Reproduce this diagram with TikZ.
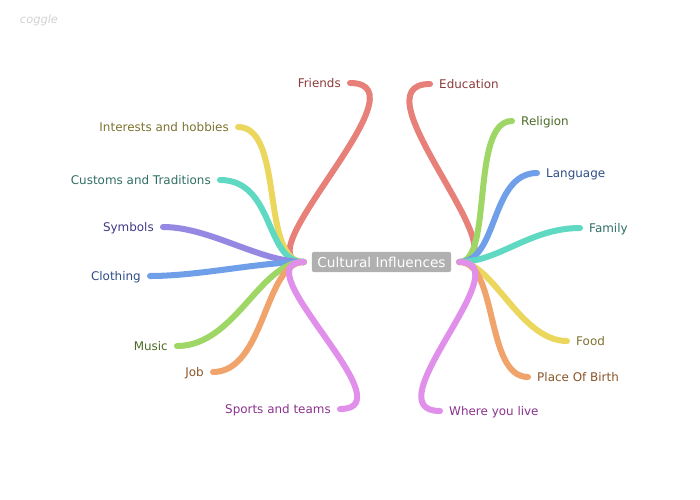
\documentclass[tikz,border=0pt]{standalone}
\usepackage{fontspec}
\setmainfont{DejaVu Sans}

\definecolor{brred}{HTML}{E8807A}    \definecolor{lbred}{HTML}{8B3A3A}
\definecolor{bryellow}{HTML}{EBD75E} \definecolor{lbyellow}{HTML}{7D7230}
\definecolor{brteal}{HTML}{60D9C2}   \definecolor{lbteal}{HTML}{2F6E62}
\definecolor{brviolet}{HTML}{9488E3} \definecolor{lbviolet}{HTML}{3F3A85}
\definecolor{brblue}{HTML}{6F9FE8}   \definecolor{lbblue}{HTML}{2E4C87}
\definecolor{brgreen}{HTML}{9ED766}  \definecolor{lbgreen}{HTML}{4B6B27}
\definecolor{brorange}{HTML}{F0A46C} \definecolor{lborange}{HTML}{8A5528}
\definecolor{brpink}{HTML}{E08FEA}   \definecolor{lbpink}{HTML}{8A338E}
\definecolor{boxgray}{HTML}{B0B0B0}

\tikzset{
  branch/.style={line width=6pt, line cap=round},
  leaf/.style={font=\fontsize{11.9}{14}\selectfont, inner xsep=9pt, inner ysep=0pt,
    text height=8.6pt, text depth=0pt},
  rootbox/.style={fill=boxgray, text=white, rounded corners=2pt, inner xsep=5.5pt,
    minimum height=20pt, font=\fontsize{13.6}{16}\selectfont}
}

\begin{document}
\begin{tikzpicture}[x=0.035cm, y=-0.035cm]

\useasboundingbox (0,0) rectangle (700,499);

% Filigrane
\node[text=gray!35, font=\fontsize{11.4}{13}\selectfont\itshape] (wmark) at (39,20) {coggle};

% Noeud central
\node[rootbox] (infl) at (381.5,262) {Cultural Influences};
\coordinate (lhub) at ([xshift=-8pt]infl.west);
\coordinate (rhub) at ([xshift=8pt]infl.east);

% Branches gauches
\foreach \nm/\lbl/\tx/\ty/\ca/\cb/\col in {
friends/Friends/350/83/-66/80/red,
interests/Interests and hobbies/238/127/-44/47/yellow,
customs/Customs and Traditions/220/180/-39/55/teal,
symbols/Symbols/163/227/-44/47/violet,
clothing/Clothing/150/276/-44/50/blue,
music/Music/177/346/-44/58/green,
job/Job/213/372/-39/52/orange,
sports/Sports and teams/340/409/-64/70/pink}
{
\node[leaf, anchor=east, text=lb\col] (\nm) at (\tx,\ty) {\lbl};
\draw[branch, draw=br\col] (lhub) .. controls +(\ca,0) and +(\cb,0) .. (\nm.east);
}

% Branches droites
\foreach \nm/\lbl/\tx/\ty/\ca/\cb/\col in {
education/Education/430/84/66/-78/red,
religion/Religion/512/121/34/-42/green,
language/Language/537/173/39/-47/blue,
family/Family/580/228/39/-50/teal,
food/Food/567/341/34/-47/yellow,
birth/Place Of Birth/528/377/39/-43/orange,
live/Where you live/440/411/64/-70/pink}
{
\node[leaf, anchor=west, text=lb\col] (\nm) at (\tx,\ty) {\lbl};
\draw[branch, draw=br\col] (rhub) .. controls +(\ca,0) and +(\cb,0) .. (\nm.west);
}

\end{tikzpicture}
\end{document}
